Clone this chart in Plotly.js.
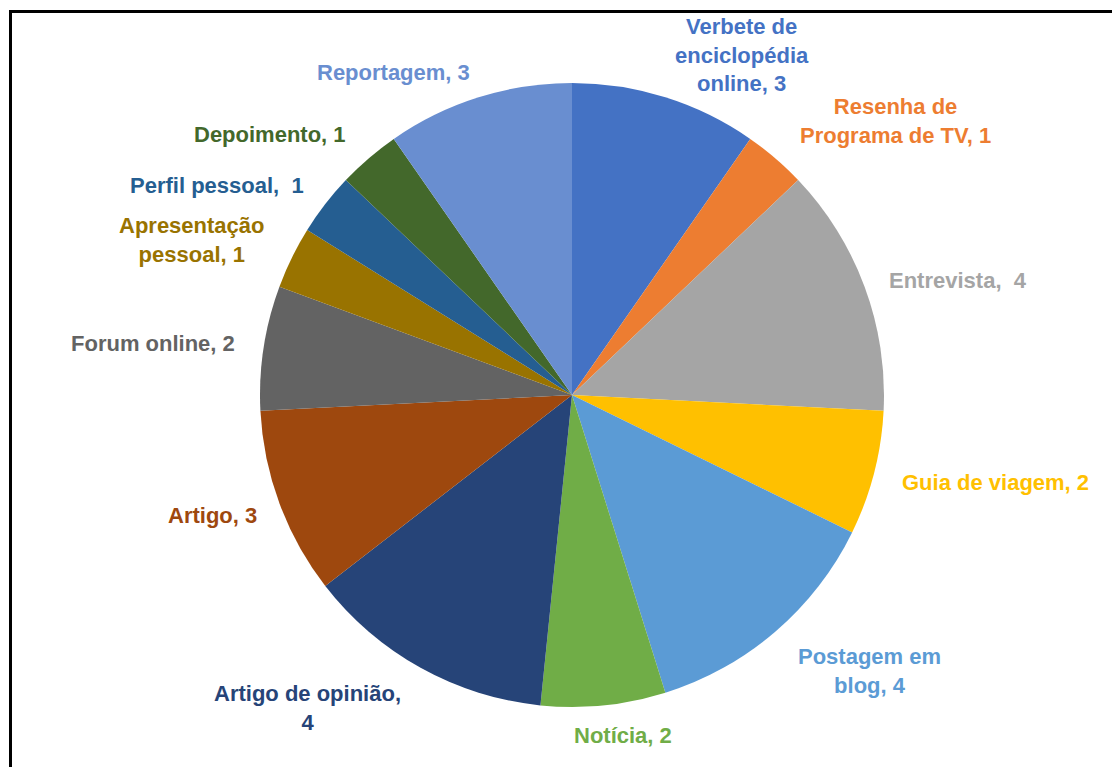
<!DOCTYPE html>
<html>
<head>
<meta charset="utf-8">
<script src="https://cdn.plot.ly/plotly-3.0.1.min.js"></script>
<style>html,body{margin:0;padding:0;background:#fff;}#chart{width:1112px;height:767px;}</style>
</head>
<body>
<div id="chart"></div>
<script>
const categories = ["Verbete de enciclopédia online", "Resenha de Programa de TV", "Entrevista", "Guia de viagem", "Postagem em blog", "Notícia", "Artigo de opinião", "Artigo", "Forum online", "Apresentação pessoal", "Perfil pessoal", "Depoimento", "Reportagem"];
const values = [3, 1, 4, 2, 4, 2, 4, 3, 2, 1, 1, 1, 3];
const colors = ["#4472C4", "#ED7D31", "#A5A5A5", "#FFC000", "#5B9BD5", "#70AD47", "#264478", "#9E480E", "#636363", "#997300", "#255E91", "#43682B", "#698ED0"];

// label layout (line breaks and positions in pixels), kept separate from data
const labelLines = [
  ["Verbete de", "enciclopédia", "online, {v}"],
  ["Resenha de", "Programa de TV, {v}"],
  ["{n},\u00a0\u00a0{v}"],
  ["{n}, {v}"],
  ["Postagem em", "blog, {v}"],
  ["{n}, {v}"],
  ["Artigo de opinião,", "{v}"],
  ["{n}, {v}"],
  ["{n}, {v}"],
  ["Apresentação", "pessoal, {v}"],
  ["Perfil pessoal,\u00a0 {v}"],
  ["{n}, {v}"],
  ["{n}, {v}"]
];
const labelPos = [
  [742, 55], [895, 121], [958, 280], [995, 482], [869, 671], [623, 735],
  [307, 708], [212, 515], [153, 343], [192, 240], [217, 185], [270, 135], [393, 73]
];

const W = 1112, H = 767;
const cx = 572, cy = 395, R = 312;

const annotations = categories.map((n, i) => ({
  text: labelLines[i].map(l => l.replace("{n}", n).replace("{v}", values[i])).join("<br>"),
  x: labelPos[i][0] / W,
  y: 1 - labelPos[i][1] / H,
  xref: "paper", yref: "paper",
  xanchor: "center", yanchor: "middle",
  showarrow: false,
  align: "center",
  font: {family: "Liberation Sans, Arial, sans-serif", size: 22, color: colors[i], weight: "bold"}
}));

const trace = {
  type: "pie",
  labels: categories,
  values: values,
  sort: false,
  direction: "clockwise",
  rotation: 0,
  textinfo: "none",
  hoverinfo: "label+value",
  marker: {colors: colors, line: {width: 0}},
  domain: {x: [(cx - R) / W, (cx + R) / W], y: [(H - cy - R) / H, (H - cy + R) / H]}
};

const layout = {
  width: W, height: H,
  margin: {l: 0, r: 0, t: 0, b: 0},
  showlegend: false,
  paper_bgcolor: "#ffffff",
  annotations: annotations,
  shapes: [
    {type: "line", xref: "paper", yref: "paper", x0: 10.5 / W, x1: 10.5 / W, y0: 1 - 10 / H, y1: -0.01, line: {color: "#000", width: 3}},
    {type: "line", xref: "paper", yref: "paper", x0: 9 / W, x1: 1.01, y0: 1 - 11.5 / H, y1: 1 - 11.5 / H, line: {color: "#000", width: 3}}
  ]
};

Plotly.newPlot("chart", [trace], layout, {displayModeBar: false, staticPlot: true});
</script>
</body>
</html>
